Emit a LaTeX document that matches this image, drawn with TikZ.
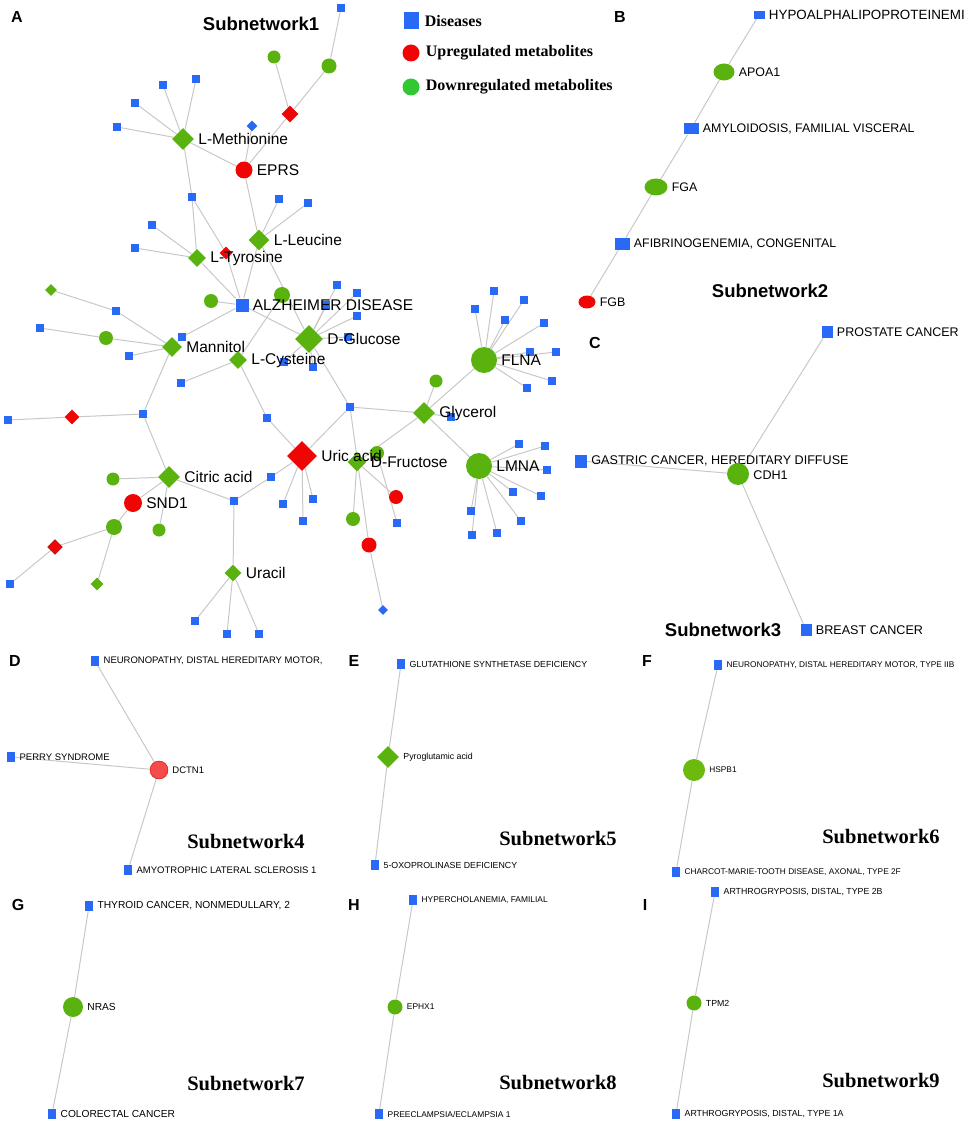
\documentclass[tikz,border=0pt]{standalone}
\usepackage{fontspec}
\setmainfont{Liberation Sans}
\newfontfamily\timesfont{Liberation Serif}
\usetikzlibrary{shapes.geometric, backgrounds, positioning}

\definecolor{disblue}{RGB}{40,105,245}
\definecolor{metgreen}{RGB}{90,178,15}
\definecolor{upred}{RGB}{240,5,5}
\definecolor{softred}{RGB}{245,75,75}
\definecolor{leggreen}{RGB}{50,200,50}
\definecolor{edgegray}{RGB}{200,200,200}

\begin{document}
\begin{tikzpicture}[
  x=1pt, y=-1pt,
  label distance=4pt,
  dis/.style={rectangle, fill=disblue, inner sep=0pt, minimum size=8pt},
  bigdis/.style={dis, minimum size=13pt},
  smalldis/.style={dis, minimum width=8.5pt, minimum height=10pt},
  met/.style={diamond, fill=metgreen, inner sep=0pt, minimum size=#1},
  upmet/.style={diamond, fill=upred, inner sep=0pt, minimum size=#1},
  dismet/.style={diamond, fill=disblue, inner sep=0pt, minimum size=#1},
  gene/.style={circle, fill=metgreen, inner sep=0pt, minimum size=#1},
  upgene/.style={circle, fill=upred, inner sep=0pt, minimum size=#1},
  genell/.style={ellipse, fill=metgreen, inner sep=0pt},
  link/.style={draw=edgegray, line width=1pt},
  lab/.style={font=\fontsize{15.5}{18}\selectfont, inner sep=0pt},
  labmid/.style={font=\fontsize{#1}{14}\selectfont, inner sep=0pt},
  labmid/.default=12.4,
  labsmall/.style={font=\fontsize{#1}{10}\selectfont, inner sep=0pt},
  panel/.style={font=\bfseries\fontsize{16}{18}\selectfont, inner sep=0pt},
  subtitle/.style={font=\bfseries\fontsize{18.5}{20}\selectfont, inner sep=0pt},
  subtitlett/.style={font=\timesfont\bfseries\fontsize{20.5}{24}\selectfont, inner sep=0pt},
  legtext/.style={font=\timesfont\bfseries\fontsize{16}{18}\selectfont, inner sep=0pt, anchor=west}
]
\useasboundingbox (0,0) rectangle (963,1123);
\clip (0,0) rectangle (963,1123);

% panel letters and titles
\node[panel] (pa) at (17,17) {A};
\node[panel] (pb) at (620,17) {B};
\node[panel] (pc) at (595,343) {C};
\node[panel] (pd) at (15,661) {D};
\node[panel] (pe) at (354,661) {E};
\node[panel] (pf) at (647,661) {F};
\node[panel] (pg) at (18,905) {G};
\node[panel] (ph) at (354,905) {H};
\node[panel] (pi) at (645,905) {I};
\node[subtitle] (sub1) at (261,24) {Subnetwork1};
\node[subtitle] (sub2) at (770,291) {Subnetwork2};
\node[subtitle] (sub3) at (723,630) {Subnetwork3};
\node[subtitlett] (sub4) at (246,842) {Subnetwork4};
\node[subtitlett] (sub5) at (558,839) {Subnetwork5};
\node[subtitlett] (sub6) at (881,837) {Subnetwork6};
\node[subtitlett] (sub7) at (246,1083) {Subnetwork7};
\node[subtitlett] (sub8) at (558,1082) {Subnetwork8};
\node[subtitlett] (sub9) at (881,1080) {Subnetwork9};

% legend
\node[dis, minimum width=15pt, minimum height=17pt] (legdis) at (411,21) {};
\node[circle, fill=upred, minimum size=17pt, inner sep=0pt] (legup) at (411,53) {};
\node[circle, fill=leggreen, minimum size=17pt, inner sep=0pt] (legdn) at (411,87) {};
\node[legtext, right=6pt of legdis] {Diseases};
\node[legtext, right=6pt of legup] {Upregulated metabolites};
\node[legtext, right=6pt of legdn] {Downregulated metabolites};

% subnetwork 1: small nodes
\node[gene=13pt] (ga) at (274,57) {};
\node[gene=15pt] (gb) at (329,66) {};
\node[dis] (sa) at (341,8) {};
\node[upmet=17pt] (ra) at (290,114) {};
\node[dismet=11pt] (bda) at (252,126) {};
\node[dis] (sb) at (192,197) {};
\node[upmet=13pt] (rb) at (226,253) {};
\node[gene=14pt] (gc) at (211,301) {};
\node[gene=16pt] (gd) at (282,295) {};
\node[met=12pt] (ge) at (51,290) {};
\node[dis] (sc) at (116,311) {};
\node[dis] (sd) at (40,328) {};
\node[gene=14pt] (gf) at (106,338) {};
\node[dis] (se) at (129,356) {};
\node[dis] (sf) at (182,337) {};
\node[dis] (sg) at (181,383) {};
\node[dis] (sh) at (267,418) {};
\node[dis] (si) at (143,414) {};
\node[upmet=15pt] (rc) at (72,417) {};
\node[dis] (sj) at (8,420) {};
\node[gene=13pt] (gg) at (113,479) {};
\node[gene=16pt] (gh) at (114,527) {};
\node[gene=13pt] (gi) at (159,530) {};
\node[upmet=15pt, draw=red!60!black] (rd) at (55,547) {};
\node[dis] (sk) at (10,584) {};
\node[met=13pt] (gj) at (97,584) {};
\node[dis] (sl) at (234,501) {};
\node[dis] (sm) at (271,477) {};
\node[dis] (sn) at (350,407) {};
\node[gene=14pt] (gk) at (377,453) {};
\node[dis] (so) at (397,523) {};
\node[upgene=14pt] (re) at (396,497) {};
\node[gene=14pt] (gl) at (353,519) {};
\node[upgene=15pt] (rf) at (369,545) {};
\node[dismet=10pt] (bdb) at (383,610) {};
\node[gene=13pt] (gm) at (436,381) {};
\node[dis] (sp) at (451,417) {};

\foreach \x/\y [count=\i] in {163/85, 196/79, 135/103, 117/127}
  \node[dis] (lmet-\i) at (\x,\y) {};
\foreach \x/\y [count=\i] in {279/199, 308/203}
  \node[dis] (lleu-\i) at (\x,\y) {};
\foreach \x/\y [count=\i] in {152/225, 135/248}
  \node[dis] (ltyr-\i) at (\x,\y) {};
\foreach \x/\y [count=\i] in {337/285, 357/293, 357/316, 326/305, 348/337, 313/367, 284/362}
  \node[dis] (dglc-\i) at (\x,\y) {};
\foreach \x/\y [count=\i] in {283/504, 313/499, 303/521}
  \node[dis] (uric-\i) at (\x,\y) {};
\foreach \x/\y [count=\i] in {195/621, 227/634, 259/634}
  \node[dis] (urac-\i) at (\x,\y) {};
\foreach \x/\y [count=\i] in {494/291, 475/309, 524/300, 505/320, 544/323, 530/352, 556/352, 552/381, 527/388}
  \node[dis] (flna-\i) at (\x,\y) {};
\foreach \x/\y [count=\i] in {519/444, 545/446, 547/470, 513/492, 541/496, 521/521, 471/511, 472/535, 497/533}
  \node[dis] (lmna-\i) at (\x,\y) {};

% subnetwork 1: hubs
\node[met=19pt, label={[lab]right:D-Fructose}] (dfru) at (357,462) {};
\node[met=22pt, label={[lab]right:L-Methionine}] (lmet) at (183,139) {};
\node[upgene=17pt, label={[lab]right:EPRS}] (eprs) at (244,170) {};
\node[met=21pt, label={[lab]right:L-Leucine}] (lleu) at (259,240) {};
\node[met=18pt, label={[lab]right:L-Tyrosine}] (ltyr) at (197,258) {};
\node[bigdis, label={[lab]right:ALZHEIMER DISEASE}] (alz) at (242,305) {};
\node[met=28pt, label={[lab]right:D-Glucose}] (dglc) at (309,339) {};
\node[met=20pt, label={[lab]right:Mannitol}] (mann) at (172,347) {};
\node[met=18pt, label={[lab]right:L-Cysteine}] (lcys) at (238,360) {};
\node[upmet=30pt, label={[lab]right:Uric acid}] (uric) at (302,456) {};
\node[met=22pt, label={[lab]right:Citric acid}] (citr) at (169,477) {};
\node[upgene=18pt, label={[lab]right:SND1}] (snd1) at (133,503) {};
\node[met=17pt, label={[lab]right:Uracil}] (urac) at (233,573) {};
\node[met=22pt, label={[lab]right:Glycerol}] (glyc) at (424,413) {};
\node[gene=26pt, label={[lab]right:FLNA}] (flna) at (484,360) {};
\node[gene=26pt, label={[lab]right:LMNA}] (lmna) at (479,466) {};

% subnetwork 2
\node[dis, minimum width=11pt, minimum height=8pt, label={[labmid=13.4]right:HYPOALPHALIPOPROTEINEMIA}] (hypo) at (759,15) {};
\node[genell, minimum width=21pt, minimum height=17pt, label={[labmid]right:APOA1}] (apoa1) at (724,72) {};
\node[dis, minimum width=15pt, minimum height=11pt, label={[labmid]right:{AMYLOIDOSIS, FAMILIAL VISCERAL}}] (amyl) at (691,129) {};
\node[genell, minimum width=23pt, minimum height=17pt, label={[labmid]right:FGA}] (fga) at (656,187) {};
\node[dis, minimum width=15pt, minimum height=12pt, label={[labmid]right:{AFIBRINOGENEMIA, CONGENITAL}}] (afib) at (622,244) {};
\node[genell, fill=upred, minimum width=17pt, minimum height=13pt, label={[labmid]right:FGB}] (fgb) at (587,302) {};

% subnetwork 3
\node[dis, minimum width=11pt, minimum height=12pt, label={[labmid=12.5]right:PROSTATE CANCER}] (prost) at (827,332) {};
\node[dis, minimum width=12pt, minimum height=13pt, label={[labmid=12.6]right:{GASTRIC CANCER, HEREDITARY DIFFUSE}}] (gast) at (581,461) {};
\node[dis, minimum width=11pt, minimum height=12pt, label={[labmid=12.6]right:BREAST CANCER}] (breast) at (806,630) {};
\node[gene=22pt, label={[labmid=12.6, yshift=-1pt]right:CDH1}] (cdh1) at (738,474) {};

% subnetworks 4 to 9
\node[smalldis, label={[labsmall=9.5]right:{NEURONOPATHY, DISTAL HEREDITARY MOTOR,}}] (neurod) at (95,661) {};
\node[smalldis, label={[labsmall=9.5]right:PERRY SYNDROME}] (perry) at (11,757) {};
\node[circle, fill=softred, draw=red!80!black, line width=0.4pt, minimum size=18pt, inner sep=0pt, label={[labsmall=9.5]right:DCTN1}] (dctn1) at (159,770) {};
\node[smalldis, label={[labsmall=9.5]right:AMYOTROPHIC LATERAL SCLEROSIS 1}] (amyo) at (128,870) {};

\node[smalldis, label={[labsmall=8.8]right:GLUTATHIONE SYNTHETASE DEFICIENCY}] (glut) at (401,664) {};
\node[met=22pt, label={[labsmall=8.8]right:Pyroglutamic acid}] (pyro) at (388,757) {};
\node[smalldis, label={[labsmall=8.8]right:5-OXOPROLINASE DEFICIENCY}] (oxo) at (375,865) {};

\node[smalldis, label={[labsmall=8.3]right:{NEURONOPATHY, DISTAL HEREDITARY MOTOR, TYPE IIB}}] (neurof) at (718,665) {};
\node[gene=22pt, fill=metgreen!90!yellow, label={[labsmall=8.3]right:HSPB1}] (hspb1) at (694,770) {};
\node[smalldis, label={[labsmall=8.3]right:{CHARCOT-MARIE-TOOTH DISEASE, AXONAL, TYPE 2F}}] (charcot) at (676,872) {};

\node[smalldis, label={[labsmall=10.2]right:{THYROID CANCER, NONMEDULLARY, 2}}] (thyr) at (89,906) {};
\node[gene=20pt, label={[labsmall=10.2]right:NRAS}] (nras) at (73,1007) {};
\node[smalldis, label={[labsmall=10.2]right:COLORECTAL CANCER}] (colo) at (52,1114) {};

\node[smalldis, label={[labsmall=8.4]right:{HYPERCHOLANEMIA, FAMILIAL}}] (hyperc) at (413,900) {};
\node[gene=15pt, label={[labsmall=8.4]right:EPHX1}] (ephx1) at (395,1007) {};
\node[smalldis, label={[labsmall=8.4]right:PREECLAMPSIA/ECLAMPSIA 1}] (preec) at (379,1114) {};

\node[smalldis, label={[labsmall=8.8]right:{ARTHROGRYPOSIS, DISTAL, TYPE 2B}}] (arthb) at (715,892) {};
\node[gene=15pt, label={[labsmall=8.8]right:TPM2}] (tpm2) at (694,1003) {};
\node[smalldis, label={[labsmall=8.8]right:{ARTHROGRYPOSIS, DISTAL, TYPE 1A}}] (artha) at (676,1114) {};

% Draw edges
\begin{scope}[on background layer]
  \draw[link] (ga) -- (ra);
  \draw[link] (sa) -- (gb) -- (ra) -- (eprs);
  \draw[link] (bda) -- (eprs);
  \draw[link] (lmet) -- (eprs);
  \foreach \i in {1,...,4} \draw[link] (lmet) -- (lmet-\i);
  \draw[link] (lmet) -- (sb) -- (ltyr);
  \draw[link] (sb) -- (rb) -- (alz);
  \draw[link] (eprs) -- (lleu);
  \foreach \i in {1,2} \draw[link] (lleu) -- (lleu-\i);
  \foreach \i in {1,2} \draw[link] (ltyr) -- (ltyr-\i);
  \draw[link] (lleu) -- (alz);
  \draw[link] (lleu) -- (dglc);
  \draw[link] (ltyr) -- (alz);
  \draw[link] (gc) -- (alz);
  \draw[link] (alz) -- (sf) -- (mann);
  \draw[link] (alz) -- (dglc);
  \draw[link] (lcys) -- (gd);
  \foreach \i in {1,...,7} \draw[link] (dglc) -- (dglc-\i);
  \draw[link] (dglc) -- (sn);
  \draw[link] (ge) -- (sc) -- (mann);
  \draw[link] (sd) -- (gf) -- (mann);
  \draw[link] (se) -- (mann);
  \draw[link] (mann) -- (si) -- (citr);
  \draw[link] (sj) -- (rc) -- (si);
  \draw[link] (lcys) -- (sg);
  \draw[link] (lcys) -- (sh) -- (uric);
  \draw[link] (citr) -- (gg);
  \draw[link] (citr) -- (snd1) -- (gh);
  \draw[link] (citr) -- (gi);
  \draw[link] (sk) -- (rd) -- (gh) -- (gj);
  \draw[link] (citr) -- (sl) -- (sm) -- (uric);
  \draw[link] (sl) -- (urac);
  \foreach \i in {1,2,3} \draw[link] (urac) -- (urac-\i);
  \foreach \i in {1,2,3} \draw[link] (uric) -- (uric-\i);
  \draw[link] (uric) -- (sn) -- (glyc);
  \draw[link] (sn) -- (rf) -- (bdb);
  \draw[link] (dfru) -- (glyc);
  \draw[link] (dfru) -- (gl);
  \draw[link] (dfru) -- (re);
  \draw[link] (gk) -- (so);
  \draw[link] (glyc) -- (gm);
  \draw[link] (glyc) -- (sp);
  \draw[link] (glyc) -- (flna);
  \draw[link] (glyc) -- (lmna);
  \foreach \i in {1,...,9} \draw[link] (flna) -- (flna-\i);
  \foreach \i in {1,...,9} \draw[link] (lmna) -- (lmna-\i);
  % small subnetworks
  \draw[link] (hypo) -- (apoa1) -- (amyl) -- (fga) -- (afib) -- (fgb);
  \foreach \n in {prost, gast, breast} \draw[link] (cdh1) -- (\n);
  \foreach \n in {neurod, perry, amyo} \draw[link] (dctn1) -- (\n);
  \draw[link] (glut) -- (pyro) -- (oxo);
  \draw[link] (neurof) -- (hspb1) -- (charcot);
  \draw[link] (thyr) -- (nras) -- (colo);
  \draw[link] (hyperc) -- (ephx1) -- (preec);
  \draw[link] (arthb) -- (tpm2) -- (artha);
\end{scope}

\end{tikzpicture}
\end{document}
